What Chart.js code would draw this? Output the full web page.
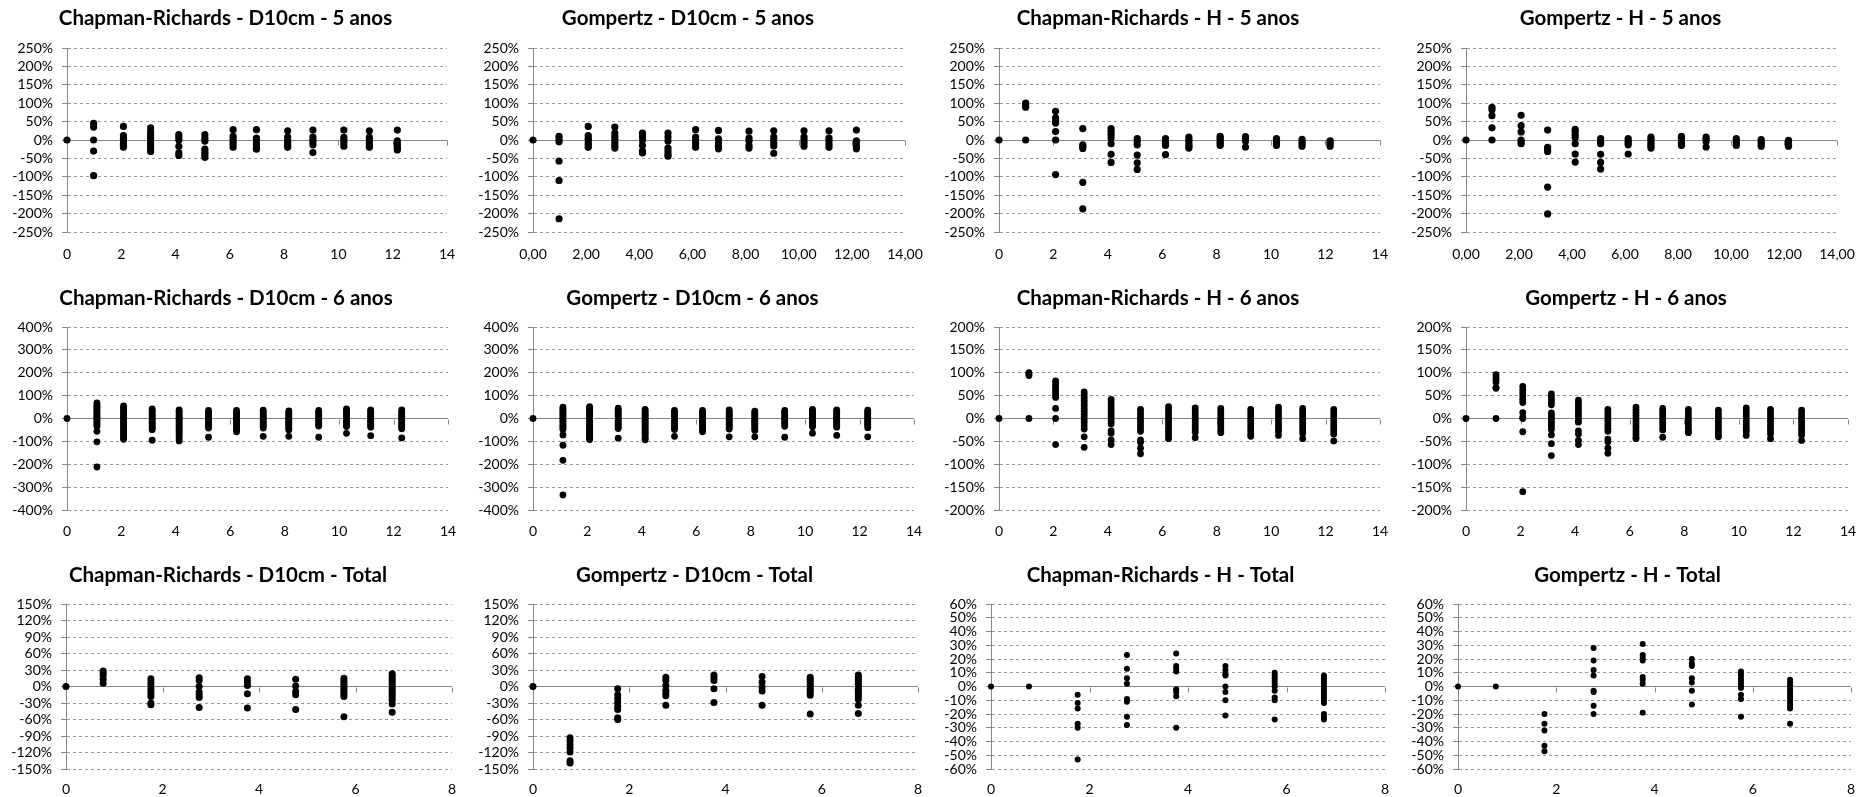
<!DOCTYPE html>
<html>
<head>
<meta charset="utf-8">
<script src="https://cdn.jsdelivr.net/npm/chart.js@4/dist/chart.umd.min.js"></script>
<style>
  html, body { margin: 0; padding: 0; background: #fff; width: 1874px; height: 797px; overflow: hidden; }
  canvas { position: absolute; }
</style>
</head>
<body>
<script>
// Ages (x) of each measurement group
const xAge5 = [0, 0.98, 2.08, 3.08, 4.12, 5.08, 6.12, 6.98, 8.13, 9.06, 10.2, 11.14, 12.17];
const xAge6 = [0, 1.1, 2.08, 3.13, 4.12, 5.2, 6.23, 7.21, 8.15, 9.25, 10.27, 11.16, 12.3];
const xAgeTotal = [0, 0.77, 1.76, 2.76, 3.76, 4.76, 5.76, 6.76];

// Relative residuals (%) per age group
const crD10_5 = [
  [0], [45, 35, 0, -30, -97], [37, 12, 5, 0, -8, -14, -20], [33, 22, 14, 7, 0, -7, -14, -22, -31],
  [15, 8, 0, -17, -35, -42], [15, 5, -3, -25, -33, -40, -47], [28, 10, 3, -5, -12, -20],
  [28, 5, -3, -12, -20, -25], [25, 8, 0, -7, -14, -20], [27, 8, 0, -5, -13, -34],
  [27, 7, 0, -8, -17], [25, 7, 0, -8, -14, -20], [27, -2, -10, -17, -23, -27]
];
const gzD10_5 = [
  [0], [10, 3, -5, -57, -110, -214], [37, 12, 5, 0, -8, -14, -20], [35, 19, 10, 2, -7, -15, -22],
  [19, 10, 0, -15, -30, -35], [19, 8, -3, -22, -30, -38, -44], [28, 8, 0, -10, -20],
  [26, 3, -8, -17, -24], [24, 5, -3, -15, -22], [25, 8, 0, -8, -16, -36],
  [25, 8, 0, -8, -17], [25, 5, -3, -12, -20], [27, -2, -10, -18, -24]
];
const crH_5 = [
  [0], [100, 95, 89, 0], [78, 60, 53, 46, 23, 0, -94], [31, -13, -17, -23, -115, -187],
  [31, 23, 15, 6, -10, -39, -61], [4, -4, -13, -41, -62, -80], [4, -4, -9, -15, -40],
  [8, 2, -5, -12, -18, -22], [10, 5, 0, -6, -11, -15], [9, 3, -3, -19],
  [4, -2, -8, -15], [2, -5, -11, -17], [-2, -6, -11, -17]
];
const gzH_5 = [
  [0], [89, 82, 66, 33, 0], [67, 39, 22, 0, -5, -10], [27, -20, -26, -31, -128, -201],
  [29, 23, 15, 7, -10, -38, -60], [4, -5, -10, -39, -61, -79], [4, -3, -8, -13, -38],
  [8, 2, -6, -12, -17, -22], [10, 5, 0, -6, -11, -15], [8, 2, -4, -19],
  [4, -2, -8, -15], [1, -5, -11, -17], [-1, -7, -12, -17]
];
const crD10_6 = [
  [0],
  [68, 61, 54, 47, 40, 33, 26, 19, 12, 5, 0, -6, -13, -20, -27, -34, -56, -102, -212],
  [55, 48, 41, 34, 27, 20, 13, 6, 0, -7, -14, -21, -28, -35, -42, -49, -56, -63, -70, -77, -84, -91],
  [42, 35, 28, 21, 14, 7, 0, -7, -14, -21, -28, -35, -42, -49, -95],
  [38, 31, 24, 17, 10, 3, -4, -11, -18, -25, -32, -39, -46, -53, -60, -68, -78, -88, -98],
  [35, 28, 21, 14, 7, 0, -7, -14, -21, -28, -35, -42, -82],
  [35, 28, 21, 14, 7, 0, -7, -14, -21, -28, -35, -42, -50, -58],
  [36, 29, 22, 15, 8, 1, -6, -13, -20, -27, -34, -42, -78],
  [33, 26, 19, 12, 5, -2, -9, -16, -23, -30, -37, -44, -50, -78],
  [35, 28, 21, 14, 7, 0, -7, -14, -21, -28, -33, -82],
  [42, 35, 28, 21, 14, 7, 0, -7, -14, -21, -28, -35, -65],
  [38, 31, 24, 17, 10, 3, -4, -11, -18, -25, -32, -38, -75],
  [38, 31, 24, 17, 10, 3, -4, -11, -18, -25, -32, -39, -45, -85]
];
const gzD10_6 = [
  [0],
  [50, 43, 36, 29, 22, 15, 8, 1, -6, -13, -20, -27, -34, -41, -48, -72, -117, -183, -334],
  [52, 45, 38, 31, 24, 17, 10, 3, -4, -11, -18, -25, -32, -39, -46, -53, -60, -67, -74, -81, -88, -92],
  [45, 38, 31, 24, 17, 10, 3, -4, -11, -18, -25, -32, -39, -44, -86],
  [40, 33, 26, 19, 12, 5, -2, -9, -16, -23, -30, -37, -44, -51, -58, -65, -72, -80, -88, -93],
  [35, 28, 21, 14, 7, 0, -7, -14, -21, -28, -35, -42, -48, -78],
  [35, 28, 21, 14, 7, 0, -7, -14, -21, -28, -35, -42, -50, -58],
  [38, 31, 24, 17, 10, 3, -4, -11, -18, -25, -32, -39, -46, -80],
  [32, 25, 18, 11, 4, -3, -10, -17, -24, -31, -38, -45, -52, -80],
  [35, 28, 21, 14, 7, 0, -7, -14, -21, -28, -34, -82],
  [40, 33, 26, 19, 12, 5, -2, -9, -16, -23, -30, -36, -64],
  [38, 31, 24, 17, 10, 3, -4, -11, -18, -25, -32, -38, -74],
  [36, 29, 22, 15, 8, 1, -6, -13, -20, -27, -34, -40, -80]
];
const crH_6 = [
  [0],
  [100, 97, 94, 0],
  [82, 76, 70, 64, 58, 52, 46, 22, 0, -57],
  [58, 52, 46, 40, 34, 28, 22, 16, 10, 4, -3, -9, -16, -23, -40, -63],
  [42, 36, 30, 24, 18, 12, 6, 0, -6, -12, -27, -32, -47, -57],
  [20, 14, 8, 2, -4, -10, -16, -22, -28, -47, -52, -65, -77],
  [26, 20, 14, 8, 2, -4, -10, -16, -22, -28, -34, -40, -44],
  [23, 17, 11, 5, -1, -7, -13, -19, -25, -30, -42],
  [22, 16, 10, 4, -2, -8, -14, -20, -26, -31],
  [20, 14, 8, 2, -4, -10, -16, -22, -28, -34, -39],
  [25, 19, 13, 7, 1, -5, -11, -17, -23, -28, -37],
  [22, 16, 10, 4, -2, -8, -14, -20, -26, -33, -44],
  [20, 14, 8, 2, -4, -10, -16, -22, -28, -34, -49]
];
const gzH_6 = [
  [0],
  [96, 91, 86, 80, 68, 66, 0],
  [70, 63, 56, 49, 42, 35, 13, 3, 0, -29, -160],
  [54, 48, 42, 36, 30, 12, 6, 0, -6, -12, -18, -24, -36, -55, -81],
  [40, 34, 28, 22, 16, 10, 4, -2, -8, -27, -34, -48, -57],
  [20, 14, 8, 2, -4, -10, -16, -22, -28, -45, -51, -65, -76],
  [25, 19, 13, 7, 1, -5, -11, -17, -23, -29, -35, -41, -44],
  [22, 16, 10, 4, -2, -8, -14, -20, -25, -41],
  [20, 14, 8, 2, -4, -10, -16, -22, -28, -31],
  [18, 12, 6, 0, -6, -12, -18, -24, -30, -36, -40],
  [23, 17, 11, 5, -1, -7, -13, -19, -25, -29, -37],
  [20, 14, 8, 2, -4, -10, -16, -22, -28, -34, -44],
  [18, 12, 6, 0, -6, -12, -18, -24, -30, -36, -48]
];
const crD10_T = [
  [0], [28, 25, 20, 13, 6], [14, 8, 3, -3, -8, -13, -18, -30, -33], [16, 11, 0, -10, -15, -20, -38],
  [14, 8, 2, -13, -39], [13, 1, -9, -15, -42], [15, 10, 6, 2, -2, -6, -10, -14, -18, -55],
  [23, 19, 15, 11, 7, 3, -1, -5, -9, -13, -17, -21, -25, -32, -47]
];
const gzD10_T = [
  [0], [-93, -99, -106, -112, -119, -135, -139], [-4, -15, -22, -29, -36, -42, -57, -60],
  [17, 11, 2, -7, -12, -17, -34], [21, 16, 11, -4, -29], [18, 8, -1, -8, -34],
  [17, 13, 9, 5, 1, -3, -7, -11, -16, -50],
  [21, 17, 13, 9, 5, 1, -3, -7, -11, -15, -19, -23, -34, -49]
];
const crH_T = [
  [0], [0], [-6, -12, -16, -27, -30, -53], [23, 13, 6, 2, -9, -11, -22, -28],
  [24, 15, 13, 11, -2, -4, -7, -30], [15, 12, 9, 8, 0, -4, -10, -21],
  [10, 8, 6, 4, 2, 0, -3, -8, -10, -24],
  [8, 6, 4, 2, 0, -2, -4, -6, -8, -10, -12, -20, -22, -24]
];
const gzH_T = [
  [0], [0], [-20, -27, -32, -43, -47], [28, 19, 12, 8, -3, -4, -14, -20],
  [31, 23, 21, 19, 7, 5, 2, -19], [20, 17, 15, 6, 3, -3, -13],
  [11, 9, 7, 5, 3, 1, -1, -6, -9, -22],
  [5, 3, 1, -1, -3, -5, -7, -9, -11, -13, -15, -16, -27]
];

// Tick values
const yTicks250 = [-250, -200, -150, -100, -50, 0, 50, 100, 150, 200, 250];
const yTicks400 = [-400, -300, -200, -100, 0, 100, 200, 300, 400];
const yTicks200 = [-200, -150, -100, -50, 0, 50, 100, 150, 200];
const yTicks150 = [-150, -120, -90, -60, -30, 0, 30, 60, 90, 120, 150];
const yTicks60 = [-60, -50, -40, -30, -20, -10, 0, 10, 20, 30, 40, 50, 60];
const xTicks14 = [0, 2, 4, 6, 8, 10, 12, 14];
const xTicks8 = [0, 2, 4, 6, 8];

const titles = [
  'Chapman-Richards - D10cm - 5 anos', 'Gompertz - D10cm - 5 anos', 'Chapman-Richards - H - 5 anos', 'Gompertz - H - 5 anos',
  'Chapman-Richards - D10cm - 6 anos', 'Gompertz - D10cm - 6 anos', 'Chapman-Richards - H - 6 anos', 'Gompertz - H - 6 anos',
  'Chapman-Richards - D10cm - Total', 'Gompertz - D10cm - Total', 'Chapman-Richards - H - Total', 'Gompertz - H - Total'
];

// ---- drawing ----
const FONT = 'Lato, "Open Sans", "DejaVu Sans", sans-serif';
const AXIS = '#868686';
const GRID = '#9a9a9a';
const intFmt = v => String(v);
const decFmt = v => v.toFixed(2).replace('.', ',');

const colLeft = [4, 471, 936, 1404];
const CW = 466;
const rows = [
  { top: 0,   h: 265, T: 48,  B: 232, titleY: 18,  tickPad: 14, plots: [[67, 447], [533, 905], [999, 1380], [1466, 1837]] },
  { top: 266, h: 277, T: 327, B: 510, titleY: 298, tickPad: 13, plots: [[67, 448], [533, 914], [999, 1380], [1466, 1848]] },
  { top: 532, h: 265, T: 604, B: 769, titleY: 575, tickPad: 12, plots: [[66, 452], [533, 918], [991, 1385], [1458, 1851]] }
];

const panels = [
  { groups: crD10_5, xs: xAge5, yt: yTicks250, xt: xTicks14, fmt: intFmt, r: 3.6 },
  { groups: gzD10_5, xs: xAge5, yt: yTicks250, xt: xTicks14, fmt: decFmt, r: 3.6 },
  { groups: crH_5,   xs: xAge5, yt: yTicks250, xt: xTicks14, fmt: intFmt, r: 3.6 },
  { groups: gzH_5,   xs: xAge5, yt: yTicks250, xt: xTicks14, fmt: decFmt, r: 3.6 },
  { groups: crD10_6, xs: xAge6, yt: yTicks400, xt: xTicks14, fmt: intFmt, r: 3.4 },
  { groups: gzD10_6, xs: xAge6, yt: yTicks400, xt: xTicks14, fmt: intFmt, r: 3.4 },
  { groups: crH_6,   xs: xAge6, yt: yTicks200, xt: xTicks14, fmt: intFmt, r: 3.4 },
  { groups: gzH_6,   xs: xAge6, yt: yTicks200, xt: xTicks14, fmt: intFmt, r: 3.4 },
  { groups: crD10_T, xs: xAgeTotal, yt: yTicks150, xt: xTicks8, fmt: intFmt, r: 3.5 },
  { groups: gzD10_T, xs: xAgeTotal, yt: yTicks150, xt: xTicks8, fmt: intFmt, r: 3.5 },
  { groups: crH_T,   xs: xAgeTotal, yt: yTicks60,  xt: xTicks8, fmt: intFmt, r: 3.0 },
  { groups: gzH_T,   xs: xAgeTotal, yt: yTicks60,  xt: xTicks8, fmt: intFmt, r: 3.0 }
];

// Zero line tick marks on the horizontal axis (Excel style "outside" marks)
const zeroAxisTicks = {
  id: 'zeroAxisTicks',
  beforeDatasetsDraw(chart) {
    const { ctx, scales: { x, y } } = chart;
    const y0 = Math.round(y.getPixelForValue(0)) + 0.5;
    ctx.save();
    ctx.strokeStyle = AXIS;
    ctx.lineWidth = 1;
    ctx.beginPath();
    x.ticks.forEach(t => {
      const px = Math.round(x.getPixelForValue(t.value)) + 0.5;
      ctx.moveTo(px, y0);
      ctx.lineTo(px, y0 + 5);
    });
    ctx.stroke();
    ctx.restore();
  }
};

const TITLE_SIZE = 20.5;

panels.forEach((p, i) => {
  const row = rows[Math.floor(i / 4)];
  const col = i % 4;
  const left = colLeft[col];
  const [L, R] = row.plots[col];
  const canvas = document.createElement('canvas');
  canvas.width = CW;
  canvas.height = row.h;
  canvas.style.left = left + 'px';
  canvas.style.top = row.top + 'px';
  canvas.style.width = CW + 'px';
  canvas.style.height = row.h + 'px';
  document.body.appendChild(canvas);

  const yAxisW = L - left;
  const rightPad = left + CW - R;
  const tPadTop = row.titleY - row.top - TITLE_SIZE / 2;
  const tPadBottom = (row.T - row.top) - tPadTop - TITLE_SIZE;
  const xAxisH = row.h - (row.B - row.top);

  const points = p.groups.flatMap((ys, g) => ys.map(v => ({ x: p.xs[g], y: v })));

  new Chart(canvas, {
    type: 'scatter',
    data: {
      datasets: [{
        data: points,
        pointRadius: p.r,
        pointHoverRadius: p.r,
        pointBackgroundColor: '#000',
        pointBorderColor: '#000',
        pointBorderWidth: 0,
        clip: false
      }]
    },
    options: {
      responsive: false,
      animation: false,
      devicePixelRatio: 1,
      layout: { padding: { left: 0, right: rightPad, top: 0, bottom: 0 } },
      plugins: {
        legend: { display: false },
        tooltip: { enabled: false },
        title: {
          display: true,
          text: titles[i],
          color: '#000',
          font: { family: FONT, size: TITLE_SIZE, weight: 'bold', lineHeight: 1 },
          padding: { top: tPadTop, bottom: tPadBottom }
        }
      },
      scales: {
        x: {
          type: 'linear',
          min: p.xt[0],
          max: p.xt[p.xt.length - 1],
          afterBuildTicks: s => { s.ticks = p.xt.map(v => ({ value: v })); },
          afterFit: s => { s.height = xAxisH; },
          grid: { display: false, drawTicks: false },
          border: { display: false },
          ticks: {
            autoSkip: false, maxRotation: 0, padding: row.tickPad,
            color: '#000', font: { family: FONT, size: 14 },
            callback: v => p.fmt(v)
          }
        },
        y: {
          type: 'linear',
          min: p.yt[0],
          max: p.yt[p.yt.length - 1],
          afterBuildTicks: s => { s.ticks = p.yt.map(v => ({ value: v })); },
          afterFit: s => { s.width = yAxisW; },
          grid: {
            color: c => (c.tick && c.tick.value === 0) ? AXIS : GRID,
            lineWidth: 1,
            drawTicks: true,
            tickLength: 5,
            tickColor: AXIS,
            tickBorderDash: []
          },
          border: {
            display: true, color: AXIS, width: 1,
            dash: c => (c.tick && c.tick.value !== 0) ? [3, 3] : []
          },
          ticks: {
            autoSkip: false, padding: 9,
            color: '#000', font: { family: FONT, size: 14 },
            callback: v => v + '%'
          }
        }
      }
    },
    plugins: [zeroAxisTicks]
  });
});
</script>
</body>
</html>
